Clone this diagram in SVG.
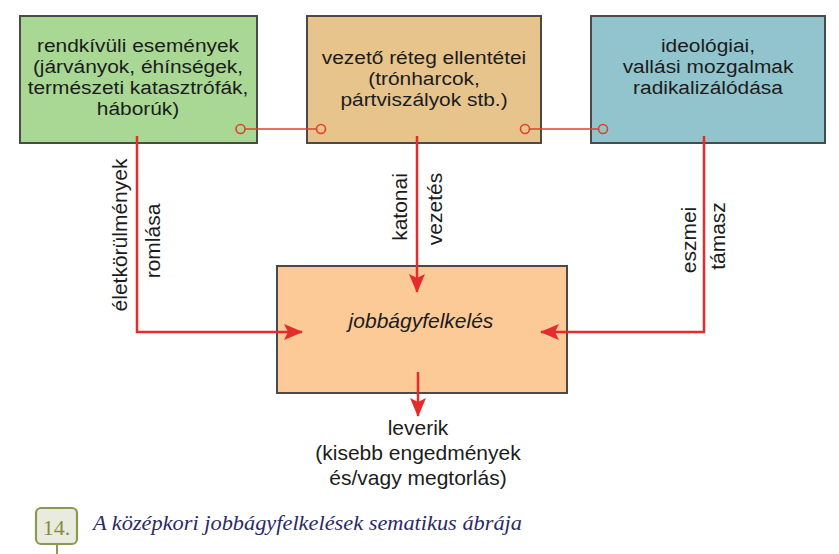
<svg xmlns="http://www.w3.org/2000/svg" width="839" height="554" viewBox="0 0 839 554">
<defs>
<style>
.box{stroke:#4a4a48;stroke-width:2}
.t{font-family:"Liberation Sans",Arial,sans-serif;font-size:21px;fill:#1c1c1c;text-anchor:middle}
.b{font-family:"Liberation Sans",Arial,sans-serif;font-size:19px;fill:#1c1c1c;text-anchor:middle}
.ln{stroke:#e52b2b;stroke-width:2.5;fill:none}
.thin{stroke:#e5402b;stroke-width:1.6;fill:none}
.cap{font-family:"Liberation Serif","Times New Roman",serif;font-style:italic;font-size:20px;fill:#2b2a66}
</style>
<marker id="ah" markerUnits="userSpaceOnUse" markerWidth="20" markerHeight="18" refX="18" refY="8" orient="auto" viewBox="0 0 20 16">
<path d="M0,0 L19,8 L0,16 L4,8 z" fill="#e52b2b"/>
</marker>
</defs>
<rect width="839" height="554" fill="#ffffff"/>
<g id="node-rendkivuli">
<rect class="box" x="20" y="16" width="237" height="127" fill="#a8d894"/>
<g transform="translate(138,0) scale(1.1,1)">
<text class="b" x="0" y="52">rendkívüli események</text>
<text class="b" x="0" y="73">(járványok, éhínségek,</text>
<text class="b" x="0" y="94">természeti katasztrófák,</text>
<text class="b" x="0" y="115">háborúk)</text>
</g>
</g>
<g id="node-vezeto">
<rect class="box" x="307" y="16" width="234" height="127" fill="#e6c48c"/>
<g transform="translate(424,0) scale(1.1,1)">
<text class="b" x="0" y="64">vezető réteg ellentétei</text>
<text class="b" x="0" y="85">(trónharcok,</text>
<text class="b" x="0" y="106">pártviszályok stb.)</text>
</g>
</g>
<g id="node-ideologiai">
<rect class="box" x="591" y="16" width="234" height="127" fill="#91c4cc"/>
<g transform="translate(708,0) scale(1.1,1)">
<text class="b" x="0" y="52">ideológiai,</text>
<text class="b" x="0" y="73">vallási mozgalmak</text>
<text class="b" x="0" y="94">radikalizálódása</text>
</g>
</g>
<g id="node-jobbagyfelkeles">
<rect class="box" x="277" y="266" width="290" height="127" fill="#fbca97"/>
<text class="t" x="421" y="328" font-style="italic">jobbágyfelkelés</text>
</g>
<g id="node-leverik">
<text class="t" x="418" y="435">leverik</text>
<text class="t" x="418" y="460">(kisebb engedmények</text>
<text class="t" x="418" y="485">és/vagy megtorlás)</text>
</g>
<g id="connectors">
<line class="thin" x1="245" y1="129" x2="316" y2="129"/>
<line class="thin" x1="530" y1="129" x2="598" y2="129"/>
<circle class="thin" cx="240.5" cy="129" r="4.5"/>
<circle class="thin" cx="321" cy="129" r="4.5"/>
<circle class="thin" cx="525" cy="129" r="4.5"/>
<circle class="thin" cx="603" cy="129" r="4.5"/>
<polyline class="ln" points="137,136 137,332 302,332" marker-end="url(#ah)"/>
<line class="ln" x1="417" y1="136" x2="417" y2="292" marker-end="url(#ah)"/>
<polyline class="ln" points="704,136 704,332 541,332" marker-end="url(#ah)"/>
<line class="ln" x1="418" y1="372" x2="418" y2="416" marker-end="url(#ah)"/>
<text class="t" transform="translate(127,235) rotate(-90)">életkörülmények</text>
<text class="t" transform="translate(160,241) rotate(-90)">romlása</text>
<text class="t" transform="translate(407,207) rotate(-90)">katonai</text>
<text class="t" transform="translate(442,209) rotate(-90)">vezetés</text>
<text class="t" transform="translate(696,240) rotate(-90)">eszmei</text>
<text class="t" transform="translate(725,236) rotate(-90)">támasz</text>
</g>
<g id="caption">
<line x1="57" y1="544" x2="57" y2="554" stroke="#8a9a52" stroke-width="2"/>
<rect x="36" y="508" width="41" height="36" rx="5" fill="#e9ebdf" stroke="#8a9a52" stroke-width="2.2"/>
<text x="56.5" y="535" font-family="Liberation Serif,Times New Roman,serif" font-size="22" fill="#8a8a3c" text-anchor="middle">14.</text>
<text class="cap" x="93" y="530" textLength="429" lengthAdjust="spacingAndGlyphs">A középkori jobbágyfelkelések sematikus ábrája</text>
</g>
</svg>
